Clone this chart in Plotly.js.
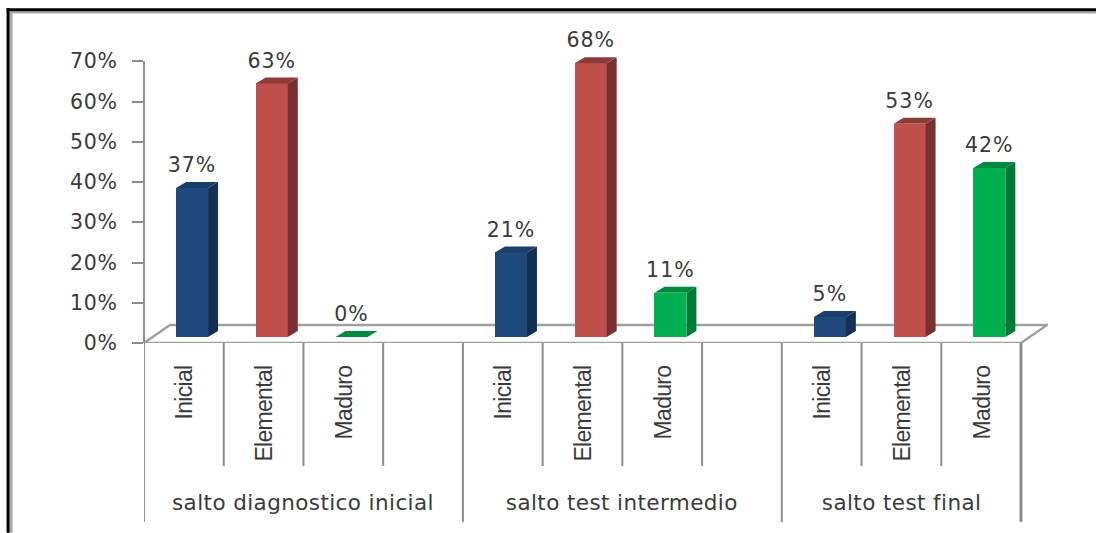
<!DOCTYPE html>
<html><head><meta charset="utf-8">
<script src="https://cdn.plot.ly/plotly-3.0.1.min.js"></script>
<style>html,body{margin:0;padding:0;background:#fff;overflow:hidden}#c{width:1096px;height:533px}
#c .annotation-text{letter-spacing:.4px}
#c .ytick text{letter-spacing:.8px}
#c .textpoint text{letter-spacing:1px}
#c .xtick text{letter-spacing:-.7px}
</style>
</head><body><div id="c"></div>
<script>
// Data
const groups = ["salto diagnostico inicial", "salto test intermedio", "salto test final"];
const levels = ["Inicial", "Elemental", "Maduro"];
const saltoInicial = [37, 63, 0];
const saltoIntermedio = [21, 68, 11];
const saltoFinal = [5, 53, 42];
const yTicks = [0, 10, 20, 30, 40, 50, 60, 70];

// Colours per level: front, side, top
const front = ["#1F497D", "#C0504D", "#00B050"];
const side = ["#152F52", "#783130", "#007A37"];
const top_ = ["#1A3D6B", "#8C3B39", "#008A40"];

// Layout geometry
const W = 1096, H = 533;
const B = 343, R = 1048, L = 143.5;
const slotPx = 79.77, unitPx = (343 - 61) / 70, yMax = 80;
const T = B - yMax * unitPx;
const dx = 10 / slotPx, dy = 6 / unitPx;            // bar depth
const floorDy = 18 / unitPx, floorDx = 26 / slotPx; // floor depth
const base = 6 / unitPx, barW = 32 / slotPx, barOff = 8.2 / slotPx;
const px = x => (x - L) / (R - L);
const py = y => (B - y) / (B - T);
const textColor = "#3A3A3A";
const gray = "#8C8C8C";

const series = [saltoInicial, saltoIntermedio, saltoFinal];
const traces = [];
const nSlots = 11;

const barX = [], barY = [], barC = [], labX = [], labY = [], labT = [];
const tickVals = [], tickText = [];
series.forEach((vals, g) => {
  vals.forEach((v, i) => {
    const slot = g * 4 + i + 0.5;
    tickVals.push(slot + 1 / slotPx); tickText.push(levels[i]);
    const cx = slot + barOff, x0 = cx - barW / 2, x1 = cx + barW / 2;
    const yb = base, yt = base + v;
    barX.push(cx); barY.push(v); barC.push(front[i]);
    labX.push(cx); labY.push(yt + dy + 15 / unitPx); labT.push(v + "%");
    if (v > 0) traces.push({type:"scatter", mode:"lines", fill:"toself", fillcolor:side[i], line:{width:0, color:side[i]},
      x:[x1, x1 + dx, x1 + dx, x1, x1], y:[yt, yt + dy, yb + dy, yb, yt], hoverinfo:"skip", showlegend:false, cliponaxis:false});
    traces.push({type:"scatter", mode:"lines", fill:"toself", fillcolor:top_[i], line:{width:0, color:top_[i]},
      x:[x0, x0 + dx, x1 + dx, x1, x0], y:[yt, yt + dy, yt + dy, yt, yt], hoverinfo:"skip", showlegend:false, cliponaxis:false});
  });
});
traces.push({type:"bar", x:barX, y:barY, base:base, width:barW, marker:{color:barC, line:{width:0}}, hoverinfo:"skip", showlegend:false});
traces.push({type:"scatter", mode:"text", x:labX, y:labY, text:labT, textposition:"middle center",
  textfont:{family:"DejaVu Sans", size:20.5, color:textColor}, cliponaxis:false, hoverinfo:"skip", showlegend:false});

// floor, axis line, separators and frame
const shapes = [];
shapes.push({type:"path", xref:"x", yref:"y", layer:"below",
  path:`M0,0 L${nSlots},0 L${nSlots + floorDx},${floorDy} L${floorDx},${floorDy} Z`,
  line:{color:"#A0A0A0", width:2.4}, fillcolor:"rgba(0,0,0,0)"});
shapes.push({type:"line", xref:"paper", yref:"y", x0:0, x1:0, y0:0, y1:70, line:{color:gray, width:2}});
const sep = (slot, y2, w) => shapes.push({type:"line", xref:"x", yref:"paper", x0:slot, x1:slot, y0:py(B), y1:py(y2), line:{color:gray, width:w}});
[1, 2, 3, 5, 6, 7, 9, 10].forEach(s => sep(s, 466, 2));
[0, 4, 8].forEach(s => sep(s, 522, 2));
sep(11, 522, 3);
const rect = (x0, y0, x1, y1, c) => shapes.push({type:"rect", xref:"paper", yref:"paper", x0:px(x0), x1:px(x1), y0:py(y0), y1:py(y1), fillcolor:c, line:{width:0}});
rect(9, 11, 1096, 13.2, "#A8A8A8");
rect(9, 11, 12, 533, "#A8A8A8");
rect(6, 8, 1096, 11, "#000000");
rect(6, 8, 9, 533, "#000000");

const annotations = groups.map((g, i) => ({text:g, xref:"x", yref:"paper", x:[2, 6, 9.5][i], y:py(503), xanchor:"center", yanchor:"middle",
  showarrow:false, font:{family:"DejaVu Sans", size:21.5, color:textColor}}));

Plotly.newPlot("c", traces, {
  width:W, height:H, showlegend:false, paper_bgcolor:"#fff", plot_bgcolor:"rgba(0,0,0,0)",
  margin:{l:L, r:W - R, t:T, b:H - B, pad:0}, bargap:0,
  xaxis:{type:"linear", range:[0, (R - L) / slotPx], tickmode:"array", tickvals:tickVals, ticktext:tickText, tickangle:-90,
    ticks:"", showgrid:false, zeroline:false, showline:false, ticklabelstandoff:17,
    tickfont:{family:"Liberation Sans Narrow, Liberation Sans", size:23, color:textColor}, automargin:false},
  yaxis:{range:[0, yMax], tickmode:"array", tickvals:yTicks, ticktext:yTicks.map(v => v + "%"), ticks:"outside", ticklen:11, tickwidth:2, tickcolor:gray,
    showline:false, showgrid:false, zeroline:false, ticklabelstandoff:10,
    tickfont:{family:"DejaVu Sans", size:20.5, color:textColor}, automargin:false},
  shapes, annotations
}, {displayModeBar:false, staticPlot:true});
</script></body></html>
